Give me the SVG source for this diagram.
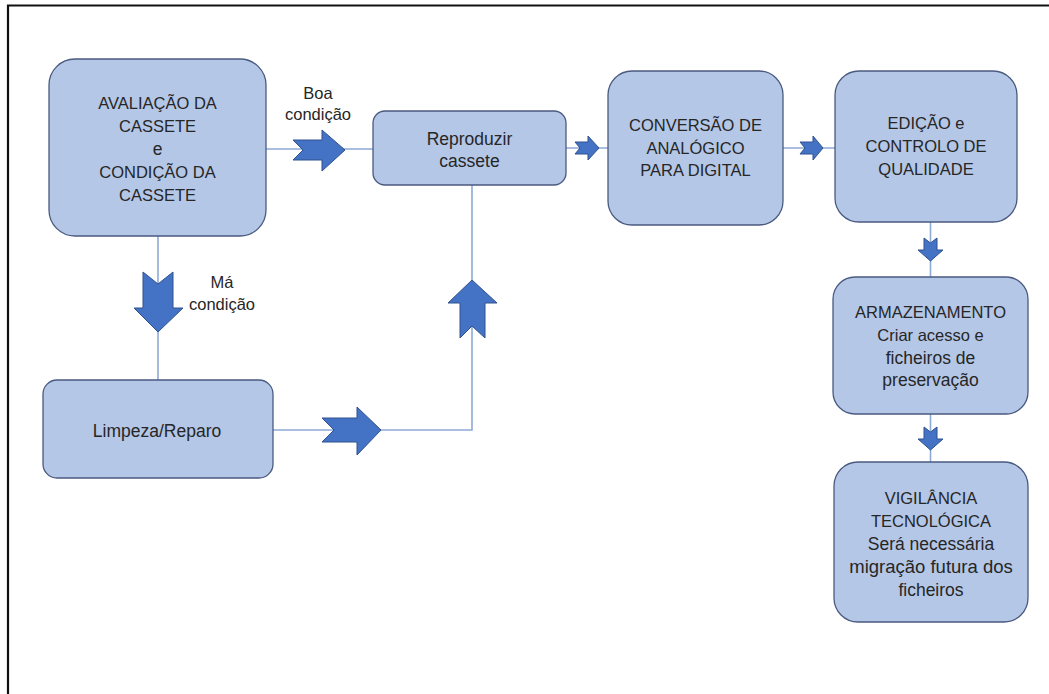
<svg xmlns="http://www.w3.org/2000/svg" width="1049" height="694" viewBox="0 0 1049 694">
<style>
.box{fill:#b4c7e7;stroke:#4a5a80;stroke-width:1.3}
.t{font-family:"Liberation Sans",Arial,sans-serif;font-size:16.5px;fill:#262626;text-anchor:middle}
.l{font-size:17.5px}
.w{font-size:18.5px}
.ln{stroke:#8eaad6;stroke-width:1.6;fill:none}
.arr{fill:#4472c4;stroke:#2f528f;stroke-width:1}
.frame{stroke:#111;stroke-width:2.2;fill:none}
</style>
<rect width="1049" height="694" fill="#fff"/>
<path class="frame" d="M8,694 V5.5 H1049"/>
<g id="connectors">
  <line class="ln" x1="266" y1="149" x2="373" y2="149"/>
  <line class="ln" x1="566" y1="148" x2="608" y2="148"/>
  <line class="ln" x1="783" y1="148" x2="835" y2="148"/>
  <line class="ln" x1="930.5" y1="222" x2="930.5" y2="277"/>
  <line class="ln" x1="930.5" y1="414" x2="930.5" y2="462"/>
  <line class="ln" x1="158" y1="236" x2="158" y2="380"/>
  <polyline class="ln" points="273,430 472,430 472,185"/>
  <polygon class="arr" points="293,140 322,140 322,130 345,150 322,171 322,160 293,160 303,150"/>
  <polygon class="arr" points="575,142 588,142 588,136 599,148 588,160 588,154 575,154 580,148"/>
  <polygon class="arr" points="800,142 813,142 813,136 823,148 813,160 813,154 800,154 805,148"/>
  <polygon class="arr" points="924,238 924,250 918,250 930.5,261 943,250 937,250 937,238 930.5,243"/>
  <polygon class="arr" points="924,427 924,439 918,439 930.5,450 943,439 937,439 937,427 930.5,432"/>
  <polygon class="arr" points="143,272 143,308 134,308 158,332 183,308 173,308 173,272 158,284"/>
  <polygon class="arr" points="322,418 357,418 357,407 381,430 357,455 357,442 322,442 334,430"/>
  <polygon class="arr" points="460,338 460,303 448,303 472,280 497,303 485,303 485,338 472,326"/>
  <text class="t" x="318" y="99">Boa</text>
  <text class="t" x="318" y="120">condição</text>
  <text class="t" x="222" y="288">Má</text>
  <text class="t" x="222" y="310">condição</text>
</g>
<g id="avaliacao">
  <rect class="box" x="49" y="59" width="217" height="177" rx="26"/>
  <text class="t" x="157.5" y="109">AVALIAÇÃO DA</text>
  <text class="t" x="157.5" y="132">CASSETE</text>
  <text class="t l" x="157.5" y="155">e</text>
  <text class="t" x="157.5" y="178">CONDIÇÃO DA</text>
  <text class="t" x="157.5" y="201">CASSETE</text>
</g>
<g id="reproduzir">
  <rect class="box" x="373" y="111" width="193" height="74" rx="12"/>
  <text class="t l" x="469.5" y="145">Reproduzir</text>
  <text class="t l" x="469.5" y="167">cassete</text>
</g>
<g id="conversao">
  <rect class="box" x="608" y="71" width="175" height="154" rx="24"/>
  <text class="t" x="695.5" y="131">CONVERSÃO DE</text>
  <text class="t" x="695.5" y="154">ANALÓGICO</text>
  <text class="t" x="695.5" y="176">PARA DIGITAL</text>
</g>
<g id="edicao">
  <rect class="box" x="835" y="71" width="182" height="151" rx="24"/>
  <text class="t" x="926" y="129">EDIÇÃO e</text>
  <text class="t" x="926" y="152">CONTROLO DE</text>
  <text class="t" x="926" y="175">QUALIDADE</text>
</g>
<g id="armazenamento">
  <rect class="box" x="833" y="277" width="195" height="137" rx="22"/>
  <text class="t" x="930.5" y="318">ARMAZENAMENTO</text>
  <text class="t" x="930.5" y="341">Criar acesso e</text>
  <text class="t l" x="930.5" y="364">ficheiros de</text>
  <text class="t l" x="930.5" y="386">preservação</text>
</g>
<g id="vigilancia">
  <rect class="box" x="834" y="462" width="194" height="160" rx="24"/>
  <text class="t" x="931" y="504">VIGILÂNCIA</text>
  <text class="t" x="931" y="527">TECNOLÓGICA</text>
  <text class="t l" x="931" y="550">Será necessária</text>
  <text class="t w" x="931" y="573">migração futura dos</text>
  <text class="t l" x="931" y="596">ficheiros</text>
</g>
<g id="limpeza">
  <rect class="box" x="43" y="380" width="230" height="98" rx="14"/>
  <text class="t l" x="157" y="437">Limpeza/Reparo</text>
</g>
</svg>
